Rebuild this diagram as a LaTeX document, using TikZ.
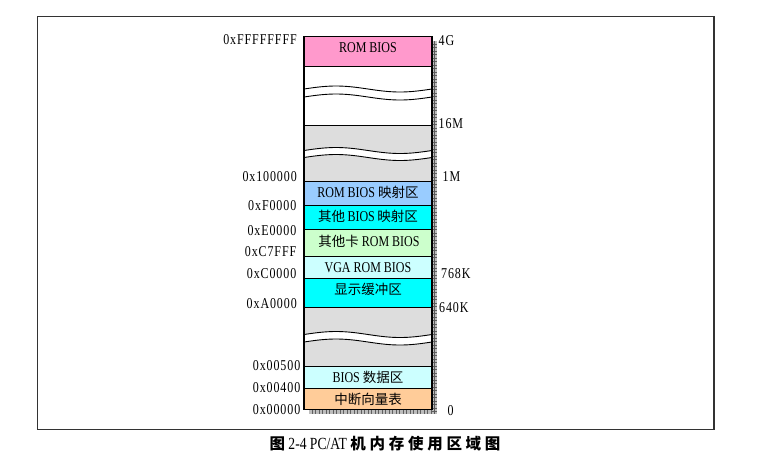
\documentclass[tikz,border=0pt]{standalone}
\usepackage{fontspec}
\setmainfont{Liberation Serif}[FakeStretch=0.8]
\newfontfamily\lab{Liberation Serif}[FakeStretch=0.8, LetterSpace=6]
\newfontfamily\cjk{Noto Sans CJK SC}
\newfontfamily\cjkcap[LetterSpace=24]{Noto Sans CJK SC}
\newcommand{\zh}[1]{{\cjk\fontsize{13.5}{14}\selectfont #1}}
\definecolor{pinkc}{HTML}{FF99CC}
\definecolor{blueb}{HTML}{99CCFF}
\definecolor{cyanc}{HTML}{00FFFF}
\definecolor{greenc}{HTML}{CCFFCC}
\definecolor{lcyan}{HTML}{CCFFFF}
\definecolor{orangec}{HTML}{FFCC99}
\definecolor{grayc}{HTML}{DDDDDD}
\definecolor{shadowc}{HTML}{BDBDBD}
\definecolor{framec}{HTML}{333333}
\begin{document}
\begin{tikzpicture}[x=1pt,y=-1pt,
  membox/.style={draw=black, line width=1pt, minimum width=128pt, inner sep=0pt, outer sep=0pt, anchor=north west},
  boxtext/.style={inner sep=0pt, font=\fontsize{15}{16}\selectfont, anchor=center},
  addrl/.style={inner sep=0pt, font=\lab\fontsize{15}{16}\selectfont, anchor=east},
  addrr/.style={inner sep=0pt, font=\lab\fontsize{15}{16}\selectfont, anchor=west},
  breakline/.style={draw=black, line width=0.9pt}]
\useasboundingbox (0,0) rectangle (757,467);
% outer frame
\draw[framec, line width=1.5pt] (37.5,16.5) rectangle (714,429.5);
% shadow
\fill[shadowc] (432,41) rectangle (437,414);
\fill[shadowc] (309,409.5) rectangle (437,414);
\foreach \yy in {44,47.5,...,412} \draw[gray!75!black, line width=0.3pt] (432,\yy) -- (437,\yy);
\foreach \xx in {312,315.5,...,436} \draw[gray!75!black, line width=0.3pt] (\xx,409.5) -- (\xx,414);
\draw[gray!70!black, line width=0.4pt] (434.5,41) -- (434.5,414);
% boxes
\node[membox, fill=pinkc, minimum height=29.3pt] (rom) at (304,36.7) {};
\node[membox, fill=white, minimum height=59pt] (hi) at (304,66) {};
\node[membox, fill=grayc, minimum height=56pt] (ext) at (304,125) {};
\node[membox, fill=blueb, minimum height=24pt] (rbm) at (304,181) {};
\node[membox, fill=cyanc, minimum height=24pt] (obm) at (304,205) {};
\node[membox, fill=greenc, minimum height=27pt] (card) at (304,229) {};
\node[membox, fill=lcyan, minimum height=22pt] (vga) at (304,256) {};
\node[membox, fill=cyanc, minimum height=29pt] (disp) at (304,278) {};
\node[membox, fill=grayc, minimum height=59pt] (base) at (304,307) {};
\node[membox, fill=lcyan, minimum height=22pt] (bda) at (304,366) {};
\node[membox, fill=orangec, minimum height=21.5pt] (ivt) at (304,388) {};
% breaks
\foreach \ya/\yb in {89/97, 150.5/157.5, 334.5/342} {
  \fill[white] plot[domain=0:1, samples=41, smooth] ({304+128*\x},{\ya-3*sin(360*\x)})
     -- plot[domain=1:0, samples=41, smooth] ({304+128*\x},{\yb-3*sin(360*\x)}) -- cycle;
  \draw[breakline] plot[domain=0:1, samples=41, smooth] ({304+128*\x},{\ya-3*sin(360*\x)});
  \draw[breakline] plot[domain=0:1, samples=41, smooth] ({304+128*\x},{\yb-3*sin(360*\x)});
}
\draw[black, line width=1.2pt] (rom.north west) rectangle (ivt.south east);
% box texts
\node[boxtext] (t1) at (368,48) {ROM BIOS};
\node[boxtext] (t2) at (368,192.5) {ROM BIOS \zh{映射区}};
\node[boxtext] (t3) at (368,216.5) {\zh{其他}\,BIOS\,\zh{映射区}};
\node[boxtext] (t4) at (369,241) {\zh{其他卡} ROM BIOS};
\node[boxtext] (t5) at (368,268) {VGA ROM BIOS};
\node[boxtext] (t6) at (368,289) {\zh{显示缓冲区}};
\node[boxtext] (t7) at (368,377.5) {BIOS \zh{数据区}};
\node[boxtext] (t8) at (368,399) {\zh{中断向量表}};
% left addresses
\node[addrl] (a1) at (297,40) {0xFFFFFFFF};
\node[addrl] (a2) at (297,177) {0x100000};
\node[addrl] (a3) at (296.5,206) {0xF0000};
\node[addrl] (a4) at (296.5,231) {0xE0000};
\node[addrl] (a5) at (296.5,251.5) {0xC7FFF};
\node[addrl] (a6) at (296.5,273.5) {0xC0000};
\node[addrl] (a7) at (297,303.5) {0xA0000};
\node[addrl] (a8) at (300.5,366) {0x00500};
\node[addrl] (a9) at (300.5,388) {0x00400};
\node[addrl] (a10) at (300.5,410) {0x00000};
% right sizes
\node[addrr] (s1) at (438.5,41) {4G};
\node[addrr] (s2) at (438.5,123.5) {16M};
\node[addrr] (s3) at (442.5,177) {1M};
\node[addrr] (s4) at (441,273.5) {768K};
\node[addrr] (s5) at (439,307.5) {640K};
\node[addrr] (s6) at (447.5,411) {0};
% caption
\node[inner sep=0pt, font=\fontsize{17}{18}\selectfont] (cap) at (385,444)
  {{\cjkcap\bfseries\fontsize{15.5}{16}\selectfont 图} 2-4 PC/AT {\cjkcap\bfseries\fontsize{15.5}{16}\selectfont 机内存使用区域图}};
\end{tikzpicture}
\end{document}
